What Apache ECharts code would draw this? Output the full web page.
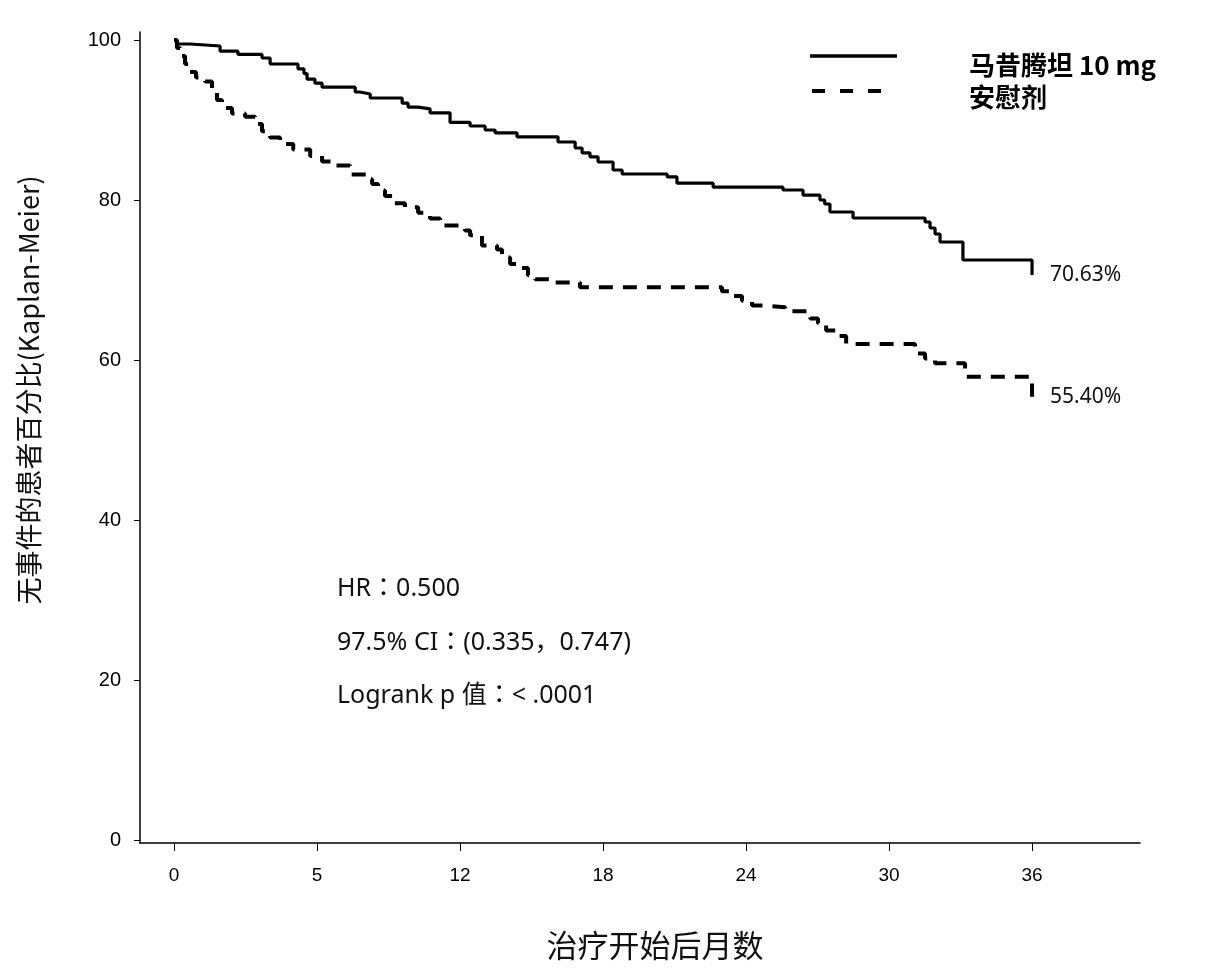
<!DOCTYPE html>
<html>
<head>
<meta charset="utf-8">
<script src="https://cdn.jsdelivr.net/npm/echarts@6/dist/echarts.min.js"></script>
<style>
  html, body { margin: 0; padding: 0; background: #fff; }
  #km { width: 1214px; height: 976px; }
</style>
</head>
<body>
<div id="km"></div>
<script>
// 无事件生存曲线 (Kaplan-Meier)

var seriesNames = ['马昔腾坦 10 mg', '安慰剂'];

// 月份, 百分比
var drugCurve = [
    [0, 100], [0.1, 99.5], [0.67, 99.25], [1.93, 98.6], [2.68, 98.2],
    [3.69, 97.75], [4.03, 97.0], [5.2, 96.4], [5.45, 95.8], [5.58, 95.1],
    [5.91, 94.6], [6.21, 94.1], [7.6, 93.5], [7.8, 93.25], [8.23, 92.75],
    [9.57, 92.1], [9.82, 91.6], [10.24, 91.4], [10.74, 90.9], [11.58, 89.7],
    [12.42, 89.25], [13.05, 88.75], [13.47, 88.4], [14.39, 87.9], [16.11, 87.25],
    [16.83, 86.5], [17.12, 85.9], [17.45, 85.4], [17.79, 84.75], [18.42, 83.75],
    [18.8, 83.25], [20.69, 82.9], [21.1, 82.1], [22.62, 81.6], [25.55, 81.25],
    [26.39, 80.6], [27.1, 80.0], [27.3, 79.5], [27.52, 78.5], [28.49, 77.75],
    [31.51, 77.25], [31.72, 76.5], [31.93, 75.75], [32.14, 74.75], [33.1, 72.5],
    [36, 70.63]
];

var placeboCurve = [
    [0, 100], [0.12, 99], [0.25, 98], [0.46, 97], [0.67, 96],
    [0.92, 95.3], [1.3, 94.8], [1.59, 93.5], [1.8, 92.5], [2.01, 91.5],
    [2.43, 90.8], [2.98, 90.4], [3.4, 89.5], [3.69, 88.6], [4.03, 87.8],
    [4.45, 87.0], [5.0, 86.3], [5.71, 85.5], [6.21, 84.8], [6.76, 84.3],
    [7.38, 83.2], [8.14, 82.6], [8.31, 82.0], [8.56, 81.2], [8.85, 80.5],
    [9.15, 79.6], [9.69, 79.1], [10.24, 78.4], [10.74, 77.7], [11.16, 76.8],
    [12.21, 76.2], [12.42, 75.6], [12.92, 74.3], [13.55, 73.8], [13.76, 72.8],
    [14.1, 72.0], [14.43, 71.5], [14.85, 70.6], [15.15, 70.1], [15.99, 69.7],
    [17.03, 69.1], [22.99, 68.6], [23.33, 68.0], [23.83, 67.4], [24.25, 66.8],
    [24.8, 66.6], [25.64, 66.1], [26.69, 65.2], [27.02, 64.6], [27.36, 63.7],
    [27.78, 63.0], [28.2, 62.0], [31.09, 60.8], [31.51, 60.2], [31.93, 59.6],
    [33.19, 57.9], [36, 55.4]
];

// 刻度 (原图第二个刻度标成 5)
var xTickValues = [0, 6, 12, 18, 24, 30, 36];
var xTickLabels = ['0', '5', '12', '18', '24', '30', '36'];
var yTickValues = [0, 20, 40, 60, 80, 100];

var statLines = ['HR：0.500', '97.5% CI：(0.335，0.747)', 'Logrank p 值：< .0001'];

var myChart = echarts.init(document.getElementById('km'), null, { renderer: 'canvas' });

var tickFont = 'Liberation Sans, Arial, sans-serif';
var cjkFont = 'Noto Sans CJK SC, Noto Sans, sans-serif';
var statFont = 'Noto Sans, Noto Sans CJK JP, sans-serif';

function endLabel() {
    return {
        show: true,
        distance: 18,
        color: '#111',
        fontSize: 21,
        fontFamily: 'Noto Sans, sans-serif',
        formatter: function (p) { return p.value[1].toFixed(2) + '%'; }
    };
}

var option = {
    backgroundColor: '#fff',
    animation: false,
    grid: { left: 140, right: 74, top: 32, bottom: 133 },
    xAxis: {
        type: 'value',
        min: -1.43,
        max: 40.53,
        splitLine: { show: false },
        axisLine: { onZero: false, lineStyle: { color: '#000', width: 1.5 } },
        axisTick: { customValues: xTickValues, length: 8, lineStyle: { color: '#000' } },
        axisLabel: {
            customValues: xTickValues,
            margin: 23,
            color: '#000',
            fontSize: 19,
            fontFamily: tickFont,
            formatter: function (v) {
                var i = xTickValues.indexOf(v);
                return i >= 0 ? xTickLabels[i] : '';
            }
        }
    },
    yAxis: {
        type: 'value',
        min: -0.375,
        max: 101,
        splitLine: { show: false },
        axisLine: { onZero: false, lineStyle: { color: '#000', width: 1.5 } },
        axisTick: { customValues: yTickValues, length: 6, lineStyle: { color: '#000' } },
        axisLabel: {
            customValues: yTickValues,
            margin: 19,
            color: '#000',
            fontSize: 20,
            fontFamily: tickFont
        }
    },
    series: [
        {
            name: seriesNames[0],
            type: 'line',
            step: 'end',
            symbol: 'none',
            data: drugCurve,
            lineStyle: { color: '#000', width: 3.2 },
            endLabel: endLabel()
        },
        {
            name: seriesNames[1],
            type: 'line',
            step: 'end',
            symbol: 'none',
            data: placeboCurve,
            lineStyle: { color: '#000', width: 4, type: [14, 10] },
            endLabel: endLabel()
        }
    ],
    graphic: [
        // 纵轴标题
        {
            type: 'text',
            x: 29, y: 390,
            rotation: Math.PI / 2,
            style: {
                text: '无事件的患者百分比(Kaplan-Meier)',
                fill: '#111',
                font: '27px ' + cjkFont,
                align: 'center',
                verticalAlign: 'middle'
            }
        },
        // 横轴标题
        {
            type: 'text',
            x: 655, y: 945,
            style: {
                text: '治疗开始后月数',
                fill: '#111',
                font: '31px ' + cjkFont,
                align: 'center',
                verticalAlign: 'middle'
            }
        },
        // 图例
        {
            type: 'line',
            shape: { x1: 810, y1: 56, x2: 897, y2: 56 },
            style: { stroke: '#000', lineWidth: 3.5 }
        },
        {
            type: 'line',
            shape: { x1: 812, y1: 91, x2: 882, y2: 91 },
            style: { stroke: '#000', lineWidth: 4, lineDash: [13, 15] }
        },
        {
            type: 'text',
            x: 969, y: 65,
            style: {
                text: seriesNames[0],
                fill: '#000',
                font: 'bold 26px ' + cjkFont,
                verticalAlign: 'middle'
            }
        },
        {
            type: 'text',
            x: 969, y: 97,
            style: {
                text: seriesNames[1],
                fill: '#000',
                font: 'bold 26px ' + cjkFont,
                verticalAlign: 'middle'
            }
        },
        // 统计量
        {
            type: 'text', x: 337, y: 589,
            style: { text: statLines[0], fill: '#111', font: '25px ' + statFont, verticalAlign: 'middle' }
        },
        {
            type: 'text', x: 337, y: 643,
            style: { text: statLines[1], fill: '#111', font: '25px ' + statFont, verticalAlign: 'middle' }
        },
        {
            type: 'text', x: 337, y: 696,
            style: { text: statLines[2], fill: '#111', font: '25px ' + statFont, verticalAlign: 'middle' }
        }
    ]
};

myChart.setOption(option);
</script>
</body>
</html>
